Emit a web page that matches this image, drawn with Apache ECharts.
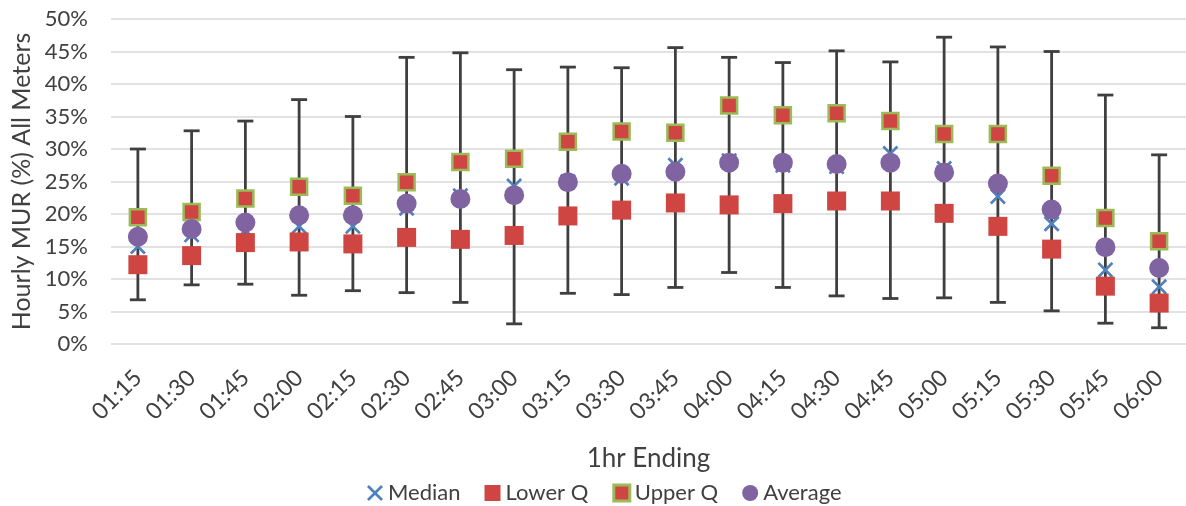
<!DOCTYPE html>
<html>
<head>
<meta charset="utf-8">
<script src="https://cdn.jsdelivr.net/npm/echarts@6/dist/echarts.min.js"></script>
<style>
html,body{margin:0;padding:0;background:#fff;}
#chart{width:1186px;height:506px;}
</style>
</head>
<body>
<div id="chart"></div>
<script>
const categories = ['01:15','01:30','01:45','02:00','02:15','02:30','02:45','03:00','03:15','03:30','03:45','04:00','04:15','04:30','04:45','05:00','05:15','05:30','05:45','06:00'];
const median  = [15.0, 16.8, 17.5, 18.1, 18.1, 20.9, 22.8, 24.3, 25.0, 25.5, 27.5, 28.2, 27.5, 27.3, 29.3, 27.0, 22.7, 18.5, 11.4, 8.8];
const lowerQ  = [12.2, 13.6, 15.6, 15.7, 15.4, 16.4, 16.1, 16.7, 19.7, 20.6, 21.7, 21.4, 21.6, 22.0, 22.0, 20.1, 18.1, 14.6, 8.9, 6.3];
const upperQ  = [19.5, 20.3, 22.4, 24.2, 22.8, 24.9, 28.0, 28.5, 31.1, 32.7, 32.5, 36.7, 35.2, 35.5, 34.3, 32.3, 32.3, 25.9, 19.4, 15.8];
const average = [16.5, 17.7, 18.7, 19.8, 19.8, 21.6, 22.3, 22.9, 24.9, 26.2, 26.5, 27.9, 27.9, 27.7, 27.9, 26.4, 24.7, 20.7, 14.9, 11.7];
const whiskerHigh = [30.0, 32.8, 34.3, 37.6, 35.0, 44.1, 44.8, 42.2, 42.6, 42.5, 45.6, 44.1, 43.3, 45.1, 43.4, 47.2, 45.7, 45.0, 38.3, 29.1];
const whiskerLow  = [6.8, 9.1, 9.2, 7.5, 8.2, 7.9, 6.4, 3.1, 7.8, 7.6, 8.7, 11.0, 8.7, 7.4, 7.0, 7.1, 6.4, 5.1, 3.2, 2.5];
const yTicks = [0, 5, 10, 15, 20, 25, 30, 35, 40, 45, 50];

const FONT = 'Lato';
const TXT = '#404040';
const RED = '#CE4541';
const GREEN = '#9BBB59';
const PURPLE = '#8064A2';
const BLUE = '#4F81BD';
const XPATH = 'path://M0,1.2 L1.2,0 L5,3.8 L8.8,0 L10,1.2 L6.2,5 L10,8.8 L8.8,10 L5,6.2 L1.2,10 L0,8.8 L3.8,5 Z';

const whiskerData = categories.map((c, i) => [i, whiskerLow[i], whiskerHigh[i]]);

const chart = echarts.init(document.getElementById('chart'), null, {renderer: 'canvas'});
chart.setOption({
  animation: false,
  backgroundColor: '#fff',
  textStyle: {fontFamily: FONT},
  grid: {left: 111, right: -3, top: 19, bottom: 162, containLabel: false},
  legend: {
    left: 362, top: 477,
    itemWidth: 16, itemHeight: 16, itemGap: 24,
    textStyle: {fontFamily: FONT, fontSize: 22, color: TXT},
    data: [
      {name: 'Median', icon: XPATH, itemStyle: {color: BLUE}},
      {name: 'Lower Q', icon: 'rect', itemStyle: {color: RED}},
      {name: 'Upper Q', icon: 'rect', itemStyle: {color: RED, borderColor: GREEN, borderWidth: 3}},
      {name: 'Average', icon: 'circle', itemStyle: {color: PURPLE}}
    ]
  },
  xAxis: {
    type: 'category',
    data: categories,
    name: '1hr Ending',
    nameLocation: 'middle',
    nameGap: 102,
    nameTextStyle: {fontFamily: FONT, fontSize: 26, color: TXT},
    axisLine: {show: false},
    axisTick: {show: false},
    axisLabel: {rotate: 45, fontFamily: FONT, fontSize: 23, color: TXT, margin: 30, interval: 0}
  },
  yAxis: {
    type: 'value',
    min: 0, max: 50, interval: 5,
    name: 'Hourly MUR (%) All Meters',
    nameLocation: 'middle',
    nameGap: 76,
    nameTextStyle: {fontFamily: FONT, fontSize: 25, color: TXT},
    axisLine: {show: false},
    axisTick: {show: false},
    axisLabel: {fontFamily: FONT, fontSize: 22, color: TXT, margin: 23, formatter: v => yTicks.includes(v) ? v + '%' : ''},
    splitLine: {lineStyle: {color: '#D9D9D9', width: 1.5}}
  },
  series: [
    {
      name: 'whiskers',
      type: 'custom',
      z: 1,
      silent: true,
      data: whiskerData,
      encode: {x: 0, y: [1, 2]},
      renderItem: function (params, api) {
        const x = api.value(0);
        const lo = api.coord([x, api.value(1)]);
        const hi = api.coord([x, api.value(2)]);
        const hw = 8;
        const style = {stroke: '#3F3F3F', lineWidth: 2.8, fill: null};
        return {
          type: 'group',
          children: [
            {type: 'line', shape: {x1: lo[0], y1: lo[1], x2: hi[0], y2: hi[1]}, style: style},
            {type: 'line', shape: {x1: hi[0] - hw, y1: hi[1], x2: hi[0] + hw, y2: hi[1]}, style: style},
            {type: 'line', shape: {x1: lo[0] - hw, y1: lo[1], x2: lo[0] + hw, y2: lo[1]}, style: style}
          ]
        };
      }
    },
    {name: 'Median', type: 'scatter', z: 2, data: median, symbol: XPATH, symbolSize: 16, itemStyle: {color: BLUE, opacity: 1}},
    {name: 'Lower Q', type: 'scatter', z: 3, data: lowerQ, symbol: 'rect', symbolSize: 19, itemStyle: {color: RED, opacity: 1}},
    {name: 'Upper Q', type: 'scatter', z: 4, data: upperQ, symbol: 'rect', symbolSize: 16, itemStyle: {color: RED, borderColor: GREEN, borderWidth: 2.5, opacity: 1}},
    {name: 'Average', type: 'scatter', z: 5, data: average, symbol: 'circle', symbolSize: 20, itemStyle: {color: PURPLE, opacity: 1}}
  ]
});
</script>
</body>
</html>
